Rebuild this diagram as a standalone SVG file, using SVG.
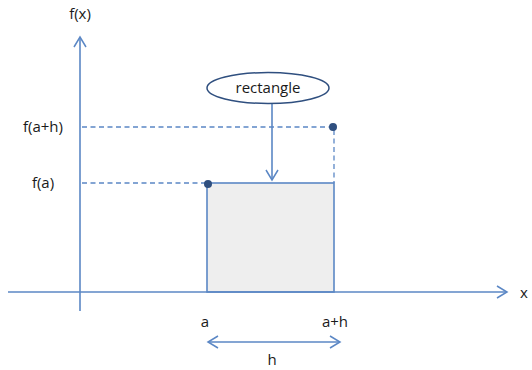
<svg xmlns="http://www.w3.org/2000/svg" width="532" height="370" viewBox="0 0 532 370">
<style>
.ax{stroke:#5b87c5;stroke-width:1.6;fill:none}
.ds{stroke:#5b87c5;stroke-width:1.3;stroke-dasharray:5 3.5;fill:none}
.t{font-family:"Open Sans","Liberation Sans",sans-serif;font-size:15px;fill:#1a1a1a}
.dot{fill:#2f4f7f}
</style>
<defs>
<marker id="ah" markerWidth="14" markerHeight="14" refX="11" refY="7" orient="auto-start-reverse" markerUnits="userSpaceOnUse">
<path d="M1,1 L11,7 L1,13" fill="none" stroke="#5b87c5" stroke-width="1.5"/>
</marker>
</defs>
<rect width="532" height="370" fill="#ffffff"/>
<g id="rect-node">
<rect x="207" y="183" width="127" height="109" fill="#eeeeee" stroke="#5b87c5" stroke-width="1.6"/>
</g>
<g id="connectors">
<line class="ax" x1="80" y1="311" x2="80" y2="37" marker-end="url(#ah)"/>
<line class="ax" x1="8" y1="292" x2="507" y2="292" marker-end="url(#ah)"/>
<polyline class="ds" points="82,127 334,127 334,183"/>
<line class="ds" x1="82" y1="183" x2="207" y2="183"/>
<line class="ax" x1="272" y1="103" x2="272" y2="180" stroke-width="1.3" marker-end="url(#ah)"/>
<line class="ax" x1="208" y1="342" x2="340" y2="342" stroke-width="1.3" marker-start="url(#ah)" marker-end="url(#ah)"/>
</g>
<g id="dots">
<circle class="dot" cx="208" cy="184" r="4"/>
<circle class="dot" cx="333" cy="127" r="4"/>
</g>
<g id="label-node">
<ellipse cx="268" cy="88" rx="61" ry="15.5" fill="#ffffff" stroke="#2f4f7f" stroke-width="1.5"/>
<text class="t" x="268" y="93" text-anchor="middle">rectangle</text>
</g>
<g id="labels">
<text class="t" x="80" y="19" text-anchor="middle">f(x)</text>
<text class="t" x="43" y="132" text-anchor="middle">f(a+h)</text>
<text class="t" x="43" y="188" text-anchor="middle">f(a)</text>
<text class="t" x="205" y="327" text-anchor="middle">a</text>
<text class="t" x="335" y="327" text-anchor="middle">a+h</text>
<text class="t" x="272" y="365" text-anchor="middle">h</text>
<text class="t" x="520" y="298">x</text>
</g>
</svg>
